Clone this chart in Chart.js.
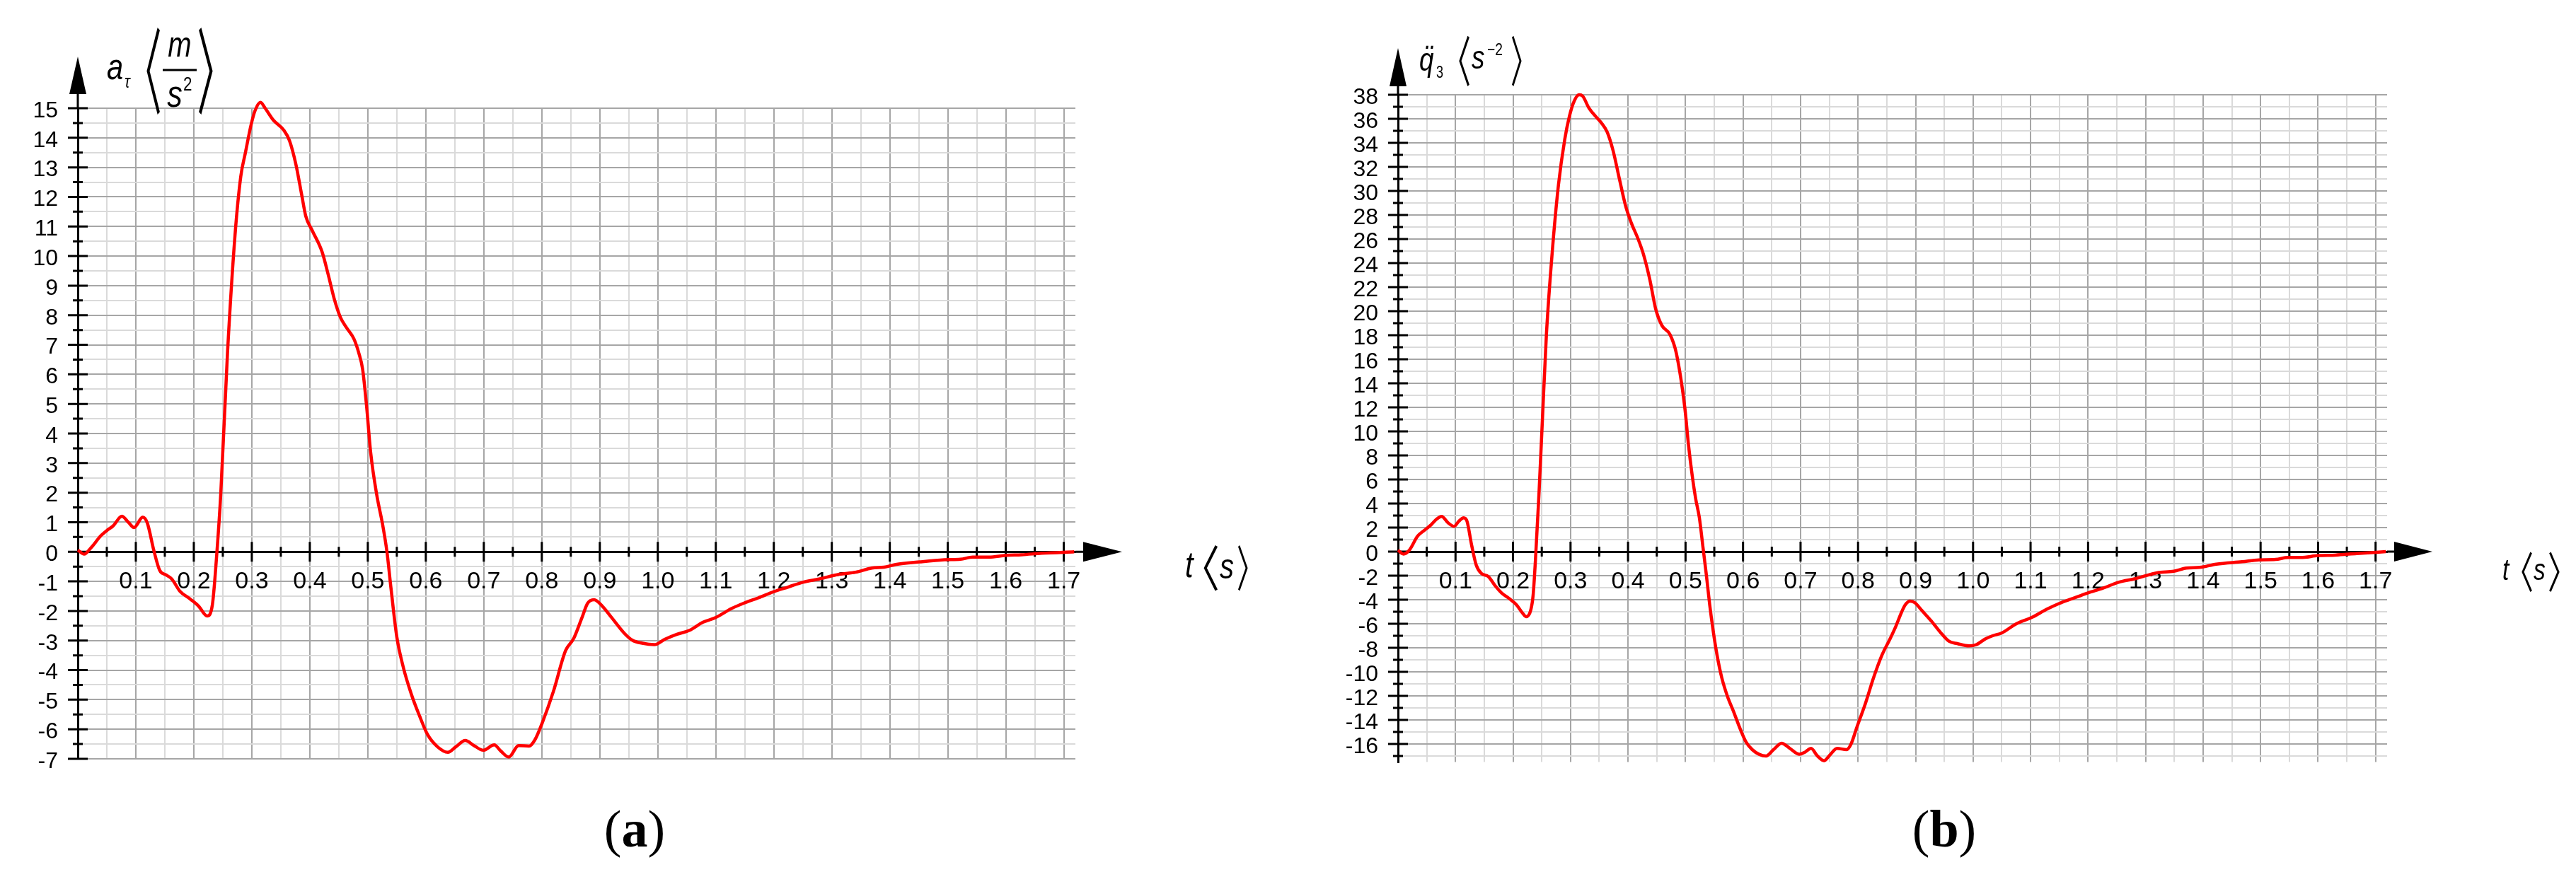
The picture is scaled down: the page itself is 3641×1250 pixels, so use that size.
<!DOCTYPE html>
<html>
<head>
<meta charset="utf-8">
<title>a_tau and q3 acceleration over time</title>
<script src="https://cdn.jsdelivr.net/npm/chart.js@4.4.1/dist/chart.umd.min.js"></script>
<style>
  html, body { margin: 0; padding: 0; background: #fff; }
  #wrap { position: relative; width: 3641px; height: 1250px; overflow: hidden; }
  canvas { position: absolute; top: 0; }
  #chartA { left: 0; }
  #chartB { left: 1800px; }
</style>
</head>
<body>
<div id="wrap">
  <canvas id="chartA" width="1800" height="1250"></canvas>
  <canvas id="chartB" width="1841" height="1250"></canvas>
</div>
<script>
// time axis, seconds
const tTickLabels = ['0.1', '0.2', '0.3', '0.4', '0.5', '0.6', '0.7', '0.8', '0.9', '1.0',
                     '1.1', '1.2', '1.3', '1.4', '1.5', '1.6', '1.7'];

// (a) tangential acceleration a_tau, m/s^2
const aTimes = [0, 0.011, 0.022, 0.04, 0.05, 0.061, 0.076, 0.087, 0.097, 0.112, 0.12, 0.131, 0.141, 0.152,
  0.162, 0.176, 0.194, 0.208, 0.223, 0.232, 0.239, 0.2465, 0.258, 0.271, 0.281, 0.289, 0.299, 0.306,
  0.315, 0.323, 0.337, 0.355, 0.365, 0.376, 0.386, 0.393, 0.404, 0.421, 0.432, 0.442, 0.453, 0.464,
  0.476, 0.4845, 0.491, 0.498, 0.505, 0.515, 0.526, 0.533, 0.54, 0.55, 0.561, 0.575, 0.589, 0.603,
  0.62, 0.638, 0.652, 0.668, 0.683, 0.699, 0.718, 0.729, 0.743, 0.76, 0.778, 0.788, 0.802, 0.82,
  0.841, 0.855, 0.869, 0.879, 0.89, 0.904, 0.921, 0.942, 0.956, 0.973, 0.994, 1.012, 1.033, 1.054,
  1.078, 1.099, 1.127, 1.148, 1.173, 1.2, 1.225, 1.25, 1.278, 1.313, 1.341, 1.369, 1.39, 1.41,
  1.452, 1.494, 1.522, 1.543, 1.571, 1.6, 1.627, 1.662, 1.718];
const aValues = [0.06, -0.08, 0.12, 0.55, 0.72, 0.88, 1.2, 1.0, 0.82, 1.17, 0.96, 0.05, -0.62, -0.78,
  -0.92, -1.33, -1.6, -1.83, -2.17, -1.79, -0.23, 1.97, 6.7, 10.7, 12.7, 13.5, 14.46, 14.94,
  15.2, 15.0, 14.6, 14.26, 13.9, 13.1, 12.07, 11.35, 10.87, 10.15, 9.35, 8.56, 7.92, 7.56,
  7.2, 6.72, 6.18, 4.9, 3.34, 1.97, 0.87, 0, -1.24, -2.88, -3.89, -4.81, -5.54, -6.18,
  -6.59, -6.78, -6.59, -6.38, -6.55, -6.71, -6.53, -6.73, -6.94, -6.55, -6.57, -6.36, -5.72, -4.72,
  -3.34, -2.93, -2.24, -1.74, -1.62, -1.83, -2.24, -2.75, -2.99, -3.09, -3.14, -2.96, -2.79, -2.66,
  -2.38, -2.23, -1.92, -1.74, -1.56, -1.35, -1.19, -1.03, -0.92, -0.76, -0.69, -0.55, -0.52, -0.43,
  -0.34, -0.27, -0.25, -0.18, -0.18, -0.12, -0.1, -0.05, 0];
const aTickLabels = ['-7', '-6', '-5', '-4', '-3', '-2', '-1', '0', '1', '2', '3', '4', '5', '6', '7',
                     '8', '9', '10', '11', '12', '13', '14', '15'];

// (b) angular acceleration of joint 3, s^-2
const qTimes = [0, 0.0094, 0.0197, 0.034, 0.046, 0.0566, 0.0668, 0.0758, 0.087, 0.0975, 0.1057, 0.114,
  0.12, 0.128, 0.136, 0.145, 0.157, 0.169, 0.18, 0.194, 0.206, 0.216, 0.223, 0.231, 0.235, 0.239,
  0.245, 0.251, 0.258, 0.268, 0.279, 0.29, 0.298, 0.3066, 0.315, 0.321, 0.332, 0.3455, 0.353, 0.3637,
  0.374, 0.385, 0.3955, 0.406, 0.4167, 0.427, 0.438, 0.448, 0.459, 0.473, 0.484, 0.499, 0.505, 0.5115,
  0.5176, 0.524, 0.53, 0.536, 0.542, 0.548, 0.5545, 0.563, 0.573, 0.583, 0.5955, 0.6057, 0.616, 0.628,
  0.64, 0.653, 0.667, 0.6816, 0.698, 0.708, 0.7184, 0.7287, 0.741, 0.751, 0.7635, 0.78, 0.788, 0.798,
  0.8127, 0.827, 0.8414, 0.8557, 0.866, 0.876, 0.8824, 0.8906, 0.8988, 0.911, 0.9275, 0.944, 0.958, 0.9725,
  0.993, 1.005, 1.0217, 1.034, 1.05, 1.076, 1.1015, 1.128, 1.15, 1.172, 1.2, 1.226, 1.253, 1.282,
  1.32, 1.349, 1.371, 1.394, 1.423, 1.468, 1.497, 1.526, 1.548, 1.57, 1.6, 1.63, 1.667, 1.718];
const qValues = [0.12, -0.2, 0.12, 1.28, 1.78, 2.19, 2.69, 2.93, 2.4, 2.1, 2.52, 2.81,
  2.52, 0.54, -1.12, -1.82, -2.07, -2.85, -3.43, -3.93, -4.42, -5.08, -5.41, -4.83, -3.6, -0.7,
  4.67, 10.87, 18.0, 24.8, 30.5, 34.3, 36.2, 37.5, 38.0, 37.9, 36.9, 36.1, 35.7, 34.9,
  33.35, 31.0, 28.8, 27.3, 26.1, 24.7, 22.6, 20.2, 18.8, 18.06, 16.5, 11.86, 8.92, 6.37,
  4.41, 2.84, 0.49, -1.86, -4.41, -6.57, -8.53, -10.49, -12.06, -13.24, -14.8, -15.88, -16.47, -16.86,
  -17.0, -16.47, -15.94, -16.37, -16.86, -16.67, -16.37, -16.96, -17.39, -16.92, -16.37, -16.47, -15.98, -14.6,
  -12.65, -10.49, -8.63, -7.25, -6.18, -5.0, -4.41, -4.12, -4.25, -4.9, -5.78, -6.76, -7.45, -7.65,
  -7.84, -7.75, -7.25, -7.0, -6.76, -5.98, -5.49, -4.8, -4.31, -3.92, -3.43, -3.04, -2.55, -2.25,
  -1.76, -1.63, -1.37, -1.31, -1.04, -0.84, -0.69, -0.65, -0.49, -0.49, -0.33, -0.29, -0.16, 0];
const qTickLabels = ['-16', '-14', '-12', '-10', '-8', '-6', '-4', '-2', '0', '2', '4', '6', '8', '10',
                     '12', '14', '16', '18', '20', '22', '24', '26', '28', '30', '32', '34', '36', '38'];

const GRID_MAJOR = '#a6a6a6';
const GRID_MINOR = '#dadada';
const SANS = '"Liberation Sans", Arial, sans-serif';

function labelFor(list, v) {
  const l = list.find(s => Math.abs(parseFloat(s) - v) < 1e-6);
  return l === undefined ? '' : l;
}
function hasLabel(list, v) {
  return labelFor(list, v) !== '';
}

// narrow italic text like the original figure
function say(ctx, str, x, y, font, sx = 0.8, align = 'left') {
  ctx.save();
  ctx.font = font;
  ctx.textAlign = align;
  ctx.textBaseline = 'alphabetic';
  ctx.fillStyle = '#000';
  ctx.translate(x, y);
  ctx.scale(sx, 1);
  ctx.fillText(str, 0, 0);
  ctx.restore();
}

// tall angle bracket stretched to fit a box
function bracket(ctx, ch, left, right, top, bottom) {
  ctx.save();
  ctx.font = '100px "Noto Sans CJK SC"';
  ctx.textAlign = 'left';
  ctx.textBaseline = 'alphabetic';
  ctx.fillStyle = '#000';
  const m = ctx.measureText(ch);
  const gw = m.actualBoundingBoxRight + m.actualBoundingBoxLeft;
  const gh = m.actualBoundingBoxAscent + m.actualBoundingBoxDescent;
  ctx.translate(left, top);
  ctx.scale((right - left) / gw, (bottom - top) / gh);
  ctx.fillText(ch, m.actualBoundingBoxLeft, m.actualBoundingBoxAscent);
  ctx.restore();
}

function caption(ctx, letter, cx, baseline) {
  const reg = '74px "Liberation Serif", "Times New Roman", serif';
  const bold = 'bold ' + reg;
  ctx.save();
  ctx.fillStyle = '#000';
  ctx.textAlign = 'left';
  ctx.textBaseline = 'alphabetic';
  ctx.font = reg;
  const wp = ctx.measureText('(').width;
  ctx.font = bold;
  const wl = ctx.measureText(letter).width;
  let x = cx - (2 * wp + wl) / 2;
  ctx.font = reg; ctx.fillText('(', x, baseline); x += wp;
  ctx.font = bold; ctx.fillText(letter, x, baseline); x += wl;
  ctx.font = reg; ctx.fillText(')', x, baseline);
  ctx.restore();
}

const it = s => `italic ${s}px ${SANS}`;

function textA(ctx) {
  say(ctx, 'a', 151, 112, it(52));
  say(ctx, 'τ', 176, 124, it(26));
  bracket(ctx, '〈', 207, 226, 38, 162);
  say(ctx, 'm', 254, 80, it(50), 0.8, 'center');
  ctx.fillStyle = '#000';
  ctx.fillRect(230, 97.5, 48, 3);
  say(ctx, 's', 247, 151, it(54), 0.8, 'center');
  say(ctx, '2', 259, 128, `28px ${SANS}`);
  bracket(ctx, '〉', 281, 301, 38, 162);

  say(ctx, 't', 1675, 816, it(52));
  bracket(ctx, '〈', 1701, 1721, 771, 836);
  say(ctx, 's', 1724, 818, it(50));
  bracket(ctx, '〉', 1750, 1764, 771, 836);

  caption(ctx, 'a', 897, 1197);
}

function textB(ctx) {
  say(ctx, 'q', 206, 100, it(46));
  say(ctx, '¨', 219, 97, it(46), 0.8, 'center');
  say(ctx, '3', 230, 110, `24px ${SANS}`, 0.75);
  bracket(ctx, '〈', 262, 277, 50, 122);
  say(ctx, 's', 280, 97, it(46));
  say(ctx, '−2', 302, 78, `24px ${SANS}`, 0.8);
  bracket(ctx, '〉', 337, 351, 50, 122);

  say(ctx, 't', 1737, 820, it(42));
  bracket(ctx, '〈', 1764, 1779, 780, 837);
  say(ctx, 's', 1781, 820, it(42));
  bracket(ctx, '〉', 1803, 1818, 780, 837);

  caption(ctx, 'b', 948, 1197);
}

// arrows, crossing tick marks and titles around the two axes
function axisDecor(id, look, drawText) {
  return {
    id: id,
    beforeDatasetsDraw(chart) {
      const { ctx, chartArea: ca, scales } = chart;
      const xs = scales.x, ys = scales.y;
      const ox = xs.getPixelForValue(0);
      const oy = ys.getPixelForValue(0);
      ctx.save();
      ctx.strokeStyle = '#000';
      ctx.fillStyle = '#000';
      ctx.lineWidth = 3;
      ctx.beginPath();
      ctx.moveTo(ox, ca.top);
      ctx.lineTo(ox, look.yArrowBase);
      ctx.moveTo(ca.right, oy);
      ctx.lineTo(look.xArrowBase, oy);
      ys.ticks.forEach(t => {
        const py = ys.getPixelForValue(t.value);
        const h = hasLabel(look.yLabels, t.value) ? 14 : 7;
        ctx.moveTo(ox - h, py);
        ctx.lineTo(ox + h, py);
      });
      xs.ticks.forEach(t => {
        if (t.value <= 0) return;
        const px = xs.getPixelForValue(t.value);
        const h = hasLabel(tTickLabels, t.value) ? 14 : 7;
        ctx.moveTo(px, oy - h);
        ctx.lineTo(px, oy + h);
      });
      ctx.stroke();
      ctx.beginPath();
      ctx.moveTo(ox, look.yArrowTip);
      ctx.lineTo(ox - 12, look.yArrowBase);
      ctx.lineTo(ox + 12, look.yArrowBase);
      ctx.closePath();
      ctx.moveTo(look.xArrowTip, oy);
      ctx.lineTo(look.xArrowBase, oy - 14);
      ctx.lineTo(look.xArrowBase, oy + 14);
      ctx.closePath();
      ctx.fill();
      ctx.restore();
    },
    afterDraw(chart) {
      drawText(chart.ctx);
    }
  };
}

function makeChart(canvasId, times, values, yLabels, yMin, yMax, yStep, padding, look, drawText) {
  const onStep = (v, step) => Math.abs(v / step - Math.round(v / step)) < 1e-6;
  return new Chart(document.getElementById(canvasId), {
    type: 'line',
    data: {
      datasets: [{
        data: times.map((t, i) => ({ x: t, y: values[i] })),
        borderColor: '#ff0000',
        borderWidth: 4.5,
        pointRadius: 0,
        fill: false,
        cubicInterpolationMode: 'monotone',
        clip: false
      }]
    },
    options: {
      responsive: false,
      animation: false,
      events: [],
      layout: { padding: padding },
      plugins: { legend: { display: false }, tooltip: { enabled: false } },
      scales: {
        x: {
          type: 'linear',
          min: 0,
          max: 1.72,
          position: { y: 0 },
          afterBuildTicks: s => { s.ticks = s.ticks.filter(t => onStep(t.value, 0.05)); },
          ticks: {
            stepSize: 0.05,
            includeBounds: false,
            autoSkip: false,
            maxRotation: 0,
            minRotation: 0,
            padding: 22,
            color: '#000',
            font: { family: SANS, size: 34 },
            callback: v => labelFor(tTickLabels, v)
          },
          grid: {
            drawTicks: false,
            lineWidth: 2,
            color: c => hasLabel(tTickLabels, c.tick.value) ? GRID_MAJOR : GRID_MINOR
          },
          border: { display: true, color: '#000', width: 3 }
        },
        y: {
          type: 'linear',
          min: yMin,
          max: yMax,
          afterBuildTicks: s => { s.ticks = s.ticks.filter(t => onStep(t.value, yStep)); },
          afterFit: s => { s.width = 100; },
          ticks: {
            stepSize: yStep,
            includeBounds: false,
            autoSkip: false,
            padding: 28,
            labelOffset: 4,
            color: '#000',
            font: { family: SANS, size: 32 },
            callback: v => labelFor(yLabels, v)
          },
          grid: {
            drawTicks: false,
            lineWidth: 2,
            color: c => hasLabel(yLabels, c.tick.value) ? GRID_MAJOR : GRID_MINOR
          },
          border: { display: true, color: '#000', width: 3 }
        }
      }
    },
    plugins: [axisDecor(canvasId + 'Decor', look, drawText)]
  });
}

makeChart('chartA', aTimes, aValues, aTickLabels, -7, 15, 0.5,
  { left: 10, right: 280, top: 153, bottom: 177 },
  { yLabels: aTickLabels, yArrowTip: 80, yArrowBase: 133, xArrowBase: 1531, xArrowTip: 1586 },
  textA);

makeChart('chartB', qTimes, qValues, qTickLabels, -17.5, 38, 1,
  { left: 76, right: 267, top: 134, bottom: 172.5 },
  { yLabels: qTickLabels, yArrowTip: 68, yArrowBase: 122, xArrowBase: 1584, xArrowTip: 1638 },
  textB);
</script>
</body>
</html>
